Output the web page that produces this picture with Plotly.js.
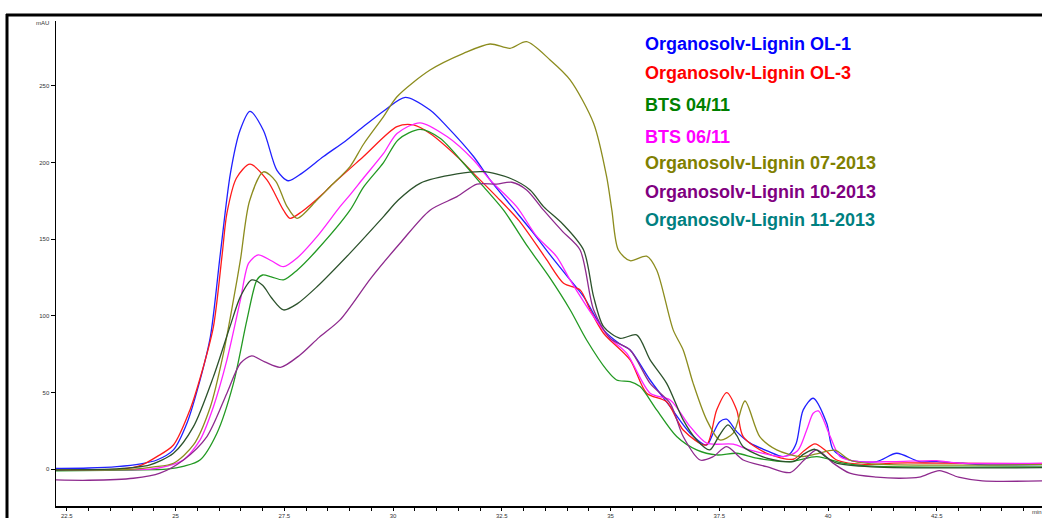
<!DOCTYPE html>
<html>
<head>
<meta charset="utf-8">
<script src="https://cdn.plot.ly/plotly-3.0.1.min.js"></script>
<style>
  html, body { margin: 0; padding: 0; background: #fff; }
  #chart { width: 1042px; height: 518px; }
</style>
</head>
<body>
<div id="chart"></div>
<script>
// ---- Data (retention time in min, signal in mAU) ----
const ol1_t = [22.25,23.0,23.65,24.2,24.57,24.95,25.26,25.56,25.8,26.03,26.26,26.48,26.71,27.02,27.33,27.59,27.9,28.4,28.9,29.32,29.8,30.28,30.85,31.24,31.85,32.23,32.73,33.2,33.61,34.0,34.38,34.84,35.2,35.45,35.91,36.37,36.83,37.21,37.36,37.51,37.67,37.9,38.21,38.6,38.97,39.12,39.27,39.43,39.66,39.97,40.12,40.5,41.12,41.58,42.1,42.5,43.1,43.5,44.92];
const ol1_y = [0.5,0.8,1.7,3.5,6,12.6,30,58,86.5,141,193,221,233.5,221,195,188.2,193,204,214,223.5,234,242.6,234.3,223.5,204,188.7,171.3,155,139.8,126,112.6,90.9,82,77.8,58.2,40.8,23.5,15.8,23.5,31,32.6,24.5,17,12,8.2,10,17,38.7,46.3,30,12.6,6,5,10.4,5,5,3.9,3,3];

const ol3_t = [22.25,23.0,23.73,24.2,24.57,24.95,25.33,25.64,25.87,26.07,26.18,26.4,26.71,27.1,27.48,27.63,27.9,28.4,28.55,29.32,30.09,30.47,30.85,31.47,31.85,32.38,32.9,33.5,33.92,34.3,34.53,34.84,35.45,35.83,36.29,36.67,37.2,37.44,37.67,37.9,38.05,38.59,39.2,39.45,39.7,39.95,40.2,40.9,41.5,42.5,44.92];
const ol3_y = [-0.5,-0.3,0,2.5,8.2,15.8,38.7,67,93,140,167,190,199,188.7,169,163.7,168,180,184.3,204,223.5,224.6,219,204,193,177.8,162,138,121.3,117,104,88.7,71.3,49.6,44,25.6,15.8,38.7,50,38.7,21.3,10.4,6.5,12,16.5,12,6,3,4,4,3.5];

const bts0411_t = [22.25,24.0,24.8,25.2,25.56,25.95,26.33,26.64,26.87,27.0,27.2,27.48,27.8,28.25,29.01,29.32,29.78,30.12,30.62,31.08,31.62,32.08,32.54,33.1,33.61,34.07,34.45,34.91,35.14,35.45,35.68,36.06,36.52,36.98,37.44,37.9,38.36,39.13,39.74,40.35,41.0,44.92];
const bts0411_y = [-1,-0.5,0,2,6,23.5,56,97.4,123.5,126.7,125.5,123.5,130,143,169,184,200,215,221.7,215.9,199.6,184.3,169,145,124.6,104,84.3,64.8,58.2,57.1,53.9,38.7,21.3,12.6,9.3,10.4,7.2,5,8.2,3.9,2,1.5];

const bts0611_t = [22.25,23.5,24.41,24.8,25.18,25.56,25.87,26.18,26.49,26.68,26.9,27.2,27.48,27.8,28.25,28.78,29.01,29.32,29.78,30.09,30.62,31.24,31.85,32.23,32.84,33.3,33.76,34.07,34.61,35.0,35.37,35.91,36.37,36.83,37.21,37.82,38.2,38.97,39.3,39.51,39.66,39.78,40.05,40.28,40.7,41.5,42.5,43.0,44.92];
const bts0611_y = [-0.5,-0.3,0,2,6,19,40.8,71.3,110.4,134.4,139.8,136,132.1,138,151.7,171.3,179,190,206,219,226,217,201.7,188.7,171.3,152,138.7,123.5,99.5,85,75.7,49.6,45.2,27.8,17,16.3,12.6,8.2,12,25.6,36.5,38,21.3,8.2,5,5,5.6,4,4];

const ol0713_t = [22.25,24.03,24.5,24.95,25.41,25.8,26.1,26.33,26.49,26.7,27.02,27.3,27.55,27.79,28.25,28.55,29.01,29.32,29.78,30.09,30.85,31.62,32.23,32.69,33.07,33.61,34.07,34.61,34.91,35.03,35.18,35.45,35.83,36.06,36.44,36.67,36.9,37.21,37.51,37.82,38.09,38.43,38.82,39.36,39.74,40.16,40.5,41.0,44.92];
const ol0713_y = [-0.5,0,1.5,3.9,15.8,40.8,75.6,110.4,136.5,175,194,188,172,163.7,175.6,184.3,197.4,212,230,243,260.4,271.3,277.4,274.6,278.9,267,254,225.7,190.8,169,143,136,139,130,90.9,77.8,56,32.2,19.1,23.5,44.5,21.3,12.6,8.2,10,12.4,6,3.5,3];

const ol1013_t = [22.25,23.0,24.03,24.64,25.18,25.72,26.18,26.49,26.75,27.05,27.41,27.86,28.3,28.78,29.5,30.16,30.85,31.47,31.93,32.38,32.73,33.07,33.46,33.9,34.3,34.61,34.99,35.45,35.91,36.37,36.67,37.06,37.35,37.67,38.05,38.59,39.13,39.45,39.74,40.12,40.5,41.12,41.65,42.1,42.56,43.0,43.55,44.92];
const ol1013_y = [-7,-7.2,-5.9,-2.6,6,21.3,49.6,69.1,73.9,70,66.5,74.5,86,97.4,125,147.4,169,177.8,186,186,187.2,182.2,169,155,143,104,85.4,77.8,56,43,21.3,6,8,14.7,6,1.7,-2.2,6,12.6,3.9,-2.6,-5.2,-5.9,-5.2,-0.9,-5.2,-7.6,-7.6];

const ol1113_t = [22.25,23.5,24.0,24.41,24.95,25.41,25.87,26.25,26.49,26.75,27.0,27.2,27.48,27.8,28.25,29.01,29.78,30.12,30.62,31.47,32.08,32.69,33.15,33.46,33.9,34.38,34.61,34.84,35.22,35.6,35.91,36.29,36.67,36.98,37.28,37.5,37.7,37.9,38.05,38.59,39.2,39.45,39.7,39.95,40.2,41.0,44.92];
const ol1113_y = [-0.5,0,1,2.8,10.4,27.8,60.4,93,112.6,123.5,120,112,103.9,108,119,141,164.8,175.6,186.5,192.6,194.1,189.8,182.2,171.3,160,143,112.6,93,85.4,87.6,71.3,56,32.2,19.1,12.6,22,28.9,22,14.7,7.2,5,10,13,8,3.9,1.5,1];

const legendLabels = ["Organosolv-Lignin OL-1","Organosolv-Lignin OL-3","BTS 04/11","BTS 06/11","Organosolv-Lignin 07-2013","Organosolv-Lignin 10-2013","Organosolv-Lignin 11-2013"];
const legendColors = ["#0000ff","#ff0000","#008000","#ff00ff","#808000","#800080","#008080"];
const lineColors   = ["#2020ff","#ff1a1a","#229922","#ff22ff","#8c8c1e","#8e2a8e","#2c522c"];
const xTickVals = [22.5,25,27.5,30,32.5,35,37.5,40,42.5];
const yTickVals = [0,50,100,150,200,250];

const series = [
  [ol1_t, ol1_y], [ol3_t, ol3_y], [bts0411_t, bts0411_y], [bts0611_t, bts0611_y],
  [ol0713_t, ol0713_y], [ol1013_t, ol1013_y], [ol1113_t, ol1113_y]
];

const traces = series.map((s, i) => ({
  x: s[0], y: s[1], type: 'scatter', mode: 'lines', name: legendLabels[i],
  line: { color: lineColors[i], width: 1.3, shape: 'spline', smoothing: 0.8 },
  hoverinfo: 'x+y+name'
}));

// plot area geometry: left 56px, top 21px, width 986px, height 485px
const W = 1042, H = 518, L = 56, T = 21, B = 12;
const pw = W - L, ph = H - T - B;
const px2x = p => (p - L) / pw;
const py2y = p => (H - B - p) / ph;

const legendY = [44, 73.3, 105, 136.7, 163.3, 191.7, 220];
const annotations = legendLabels.map((t, i) => ({
  text: t, xref: 'paper', yref: 'paper', x: px2x(643), y: py2y(legendY[i]),
  xanchor: 'left', yanchor: 'middle', showarrow: false,
  font: { family: 'Liberation Sans, Arial, sans-serif', size: 18, color: legendColors[i], weight: 'bold' }
}));
annotations.push({ text: 'mAU', xref: 'paper', yref: 'paper', x: px2x(51), y: py2y(23),
  xanchor: 'right', yanchor: 'middle', showarrow: false,
  font: { family: 'Liberation Sans, Arial, sans-serif', size: 6, color: '#333' } });
annotations.push({ text: 'min', xref: 'paper', yref: 'paper', x: px2x(1030), y: py2y(512),
  xanchor: 'left', yanchor: 'middle', showarrow: false,
  font: { family: 'Liberation Sans, Arial, sans-serif', size: 6, color: '#333' } });

const layout = {
  width: W, height: H,
  margin: { l: L, r: 0, t: T, b: B, pad: 0 },
  paper_bgcolor: '#ffffff', plot_bgcolor: '#ffffff',
  showlegend: false,
  xaxis: {
    range: [22.25, 44.92], tickvals: xTickVals, ticktext: xTickVals.map(String),
    showgrid: false, zeroline: false, showline: true, linecolor: '#000', linewidth: 1.5,
    ticks: 'outside', ticklen: 3, tickwidth: 1, tickcolor: '#000',
    tickfont: { family: 'Liberation Sans, Arial, sans-serif', size: 6, color: '#333' },
    minor: { dtick: 0.5, tick0: 22.5, ticks: 'outside', ticklen: 3, tickcolor: '#000', showgrid: false },
    automargin: false
  },
  yaxis: {
    range: [-24, 292.4], tickvals: yTickVals, ticktext: yTickVals.map(String),
    showgrid: false, zeroline: false, showline: true, linecolor: '#000', linewidth: 1.5,
    ticks: 'outside', ticklen: 4, tickwidth: 1, tickcolor: '#000',
    tickfont: { family: 'Liberation Sans, Arial, sans-serif', size: 6, color: '#333' },
    automargin: false
  },
  annotations: annotations,
  shapes: [
    { type: 'line', xref: 'paper', yref: 'paper', x0: px2x(6), x1: px2x(1045), y0: py2y(15), y1: py2y(15),
      line: { color: '#000', width: 3 } },
    { type: 'line', xref: 'paper', yref: 'paper', x0: px2x(7), x1: px2x(7), y0: py2y(14), y1: py2y(520),
      line: { color: '#000', width: 3 } }
  ]
};

Plotly.newPlot('chart', traces, layout, { displayModeBar: false, staticPlot: true });
</script>
</body>
</html>
